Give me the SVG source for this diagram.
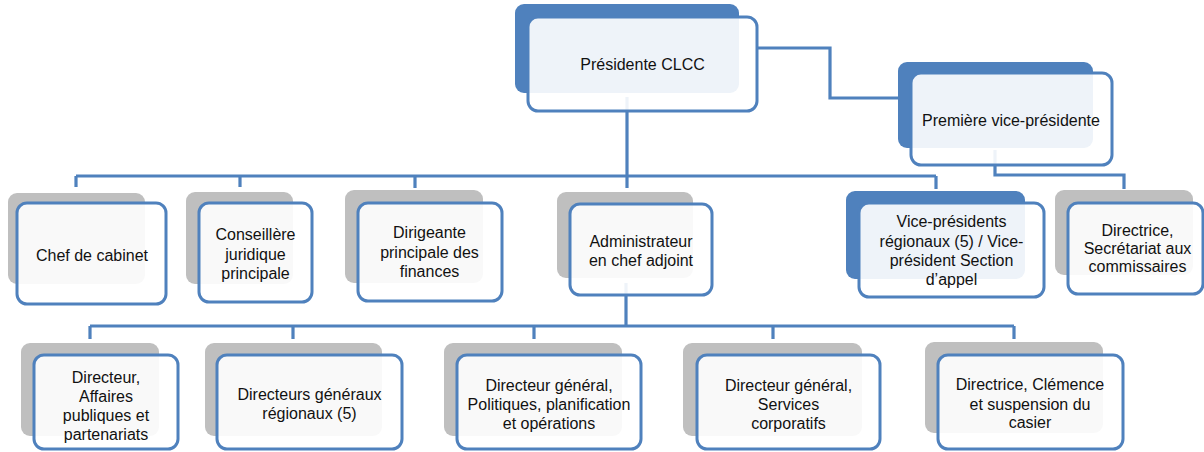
<svg xmlns="http://www.w3.org/2000/svg" width="1204" height="452" viewBox="0 0 1204 452">
<style>
.bb{fill:#4F81BD;}
.bg{fill:#BFBFBF;}
.fr{fill:#FFFFFF;fill-opacity:0.9;stroke:#4F81BD;stroke-width:3;}
.cn{fill:none;stroke:#4F81BD;stroke-width:3.2;stroke-linejoin:miter;}
text{font-family:"Liberation Sans",Arial,sans-serif;font-size:16px;fill:#111;text-anchor:middle;}
</style>
<rect width="1204" height="452" fill="#FFFFFF"/>
<g id="connectors">
<path class="cn" d="M627,97 V188"/>
<path class="cn" d="M76,176 H936"/>
<path class="cn" d="M76,176 V187 M240,176 V187 M415,176 V188 M936,176 V189"/>
<path class="cn" d="M757,48 H830 V98 H898"/>
<path class="cn" d="M995,150 V175 H1124 V189"/>
<path class="cn" d="M626,283 V326"/>
<path class="cn" d="M90,326 H1014"/>
<path class="cn" d="M90,326 V339 M293,326 V339 M534,326 V339 M773,326 V339 M1014,326 V339"/>
</g>
<g id="presidente">
<rect class="bb" x="515" y="4" width="224" height="89" rx="9"/>
<rect class="fr" x="528" y="17" width="229" height="94" rx="10"/>
<text x="642.5" y="70">Présidente CLCC</text>
</g>
<g id="premiere-vp">
<rect class="bb" x="898" y="62" width="195" height="86" rx="9"/>
<rect class="fr" x="911" y="73" width="201" height="92" rx="10"/>
<text x="1011" y="126">Première vice-présidente</text>
</g>
<g id="chef-cabinet">
<rect class="bg" x="8" y="193" width="137" height="91" rx="9"/>
<rect class="fr" x="17" y="203" width="149" height="101" rx="10"/>
<text x="92" y="261">Chef de cabinet</text>
</g>
<g id="conseillere">
<rect class="bg" x="186" y="192" width="107" height="92" rx="9"/>
<rect class="fr" x="199" y="203" width="113" height="99" rx="10"/>
<text x="255.5" y="240">Conseillère</text>
<text x="255.5" y="259.5">juridique</text>
<text x="255.5" y="279">principale</text>
</g>
<g id="dirigeante">
<rect class="bg" x="345" y="190" width="138" height="93" rx="9"/>
<rect class="fr" x="358" y="203" width="144" height="98" rx="10"/>
<text x="429.5" y="238">Dirigeante</text>
<text x="429.5" y="257.5">principale des</text>
<text x="429.5" y="277">finances</text>
</g>
<g id="administrateur">
<rect class="bg" x="557" y="192" width="136" height="86" rx="9"/>
<rect class="fr" x="570" y="204" width="142" height="91" rx="10"/>
<text x="641" y="247">Administrateur</text>
<text x="641" y="266">en chef adjoint</text>
</g>
<g id="vice-presidents">
<rect class="bb" x="846" y="191" width="179" height="88" rx="9"/>
<rect class="fr" x="859" y="203" width="185" height="94" rx="10"/>
<text x="951.5" y="227">Vice-présidents</text>
<text x="951.5" y="246.5">régionaux (5) / Vice-</text>
<text x="951.5" y="265.5">président Section</text>
<text x="951.5" y="285">d’appel</text>
</g>
<g id="secretariat">
<rect class="bg" x="1055" y="190" width="138" height="85" rx="9"/>
<rect class="fr" x="1068" y="203" width="135" height="91" rx="10"/>
<text x="1137.5" y="236">Directrice,</text>
<text x="1137.5" y="254">Secrétariat aux</text>
<text x="1137.5" y="272">commissaires</text>
</g>
<g id="affaires-publiques">
<rect class="bg" x="21" y="343" width="138" height="93" rx="9"/>
<rect class="fr" x="34" y="355" width="144" height="94" rx="10"/>
<text x="106" y="383">Directeur,</text>
<text x="106" y="402">Affaires</text>
<text x="106" y="421">publiques et</text>
<text x="106" y="439.5">partenariats</text>
</g>
<g id="dg-regionaux">
<rect class="bg" x="205" y="343" width="177" height="93" rx="9"/>
<rect class="fr" x="217" y="355" width="185" height="94" rx="10"/>
<text x="309.5" y="400">Directeurs généraux</text>
<text x="309.5" y="419">régionaux (5)</text>
</g>
<g id="dg-politiques">
<rect class="bg" x="444" y="343" width="178" height="93" rx="9"/>
<rect class="fr" x="457" y="355" width="184" height="94" rx="10"/>
<text x="549" y="391">Directeur général,</text>
<text x="549" y="410">Politiques, planification</text>
<text x="549" y="429">et opérations</text>
</g>
<g id="dg-services">
<rect class="bg" x="683" y="343" width="179" height="93" rx="9"/>
<rect class="fr" x="697" y="355" width="183" height="94" rx="10"/>
<text x="788.5" y="391">Directeur général,</text>
<text x="788.5" y="410">Services</text>
<text x="788.5" y="429">corporatifs</text>
</g>
<g id="clemence">
<rect class="bg" x="925" y="342" width="178" height="91" rx="9"/>
<rect class="fr" x="938" y="355" width="185" height="94" rx="10"/>
<text x="1030" y="390">Directrice, Clémence</text>
<text x="1030" y="409.5">et suspension du</text>
<text x="1030" y="428">casier</text>
</g>
</svg>
